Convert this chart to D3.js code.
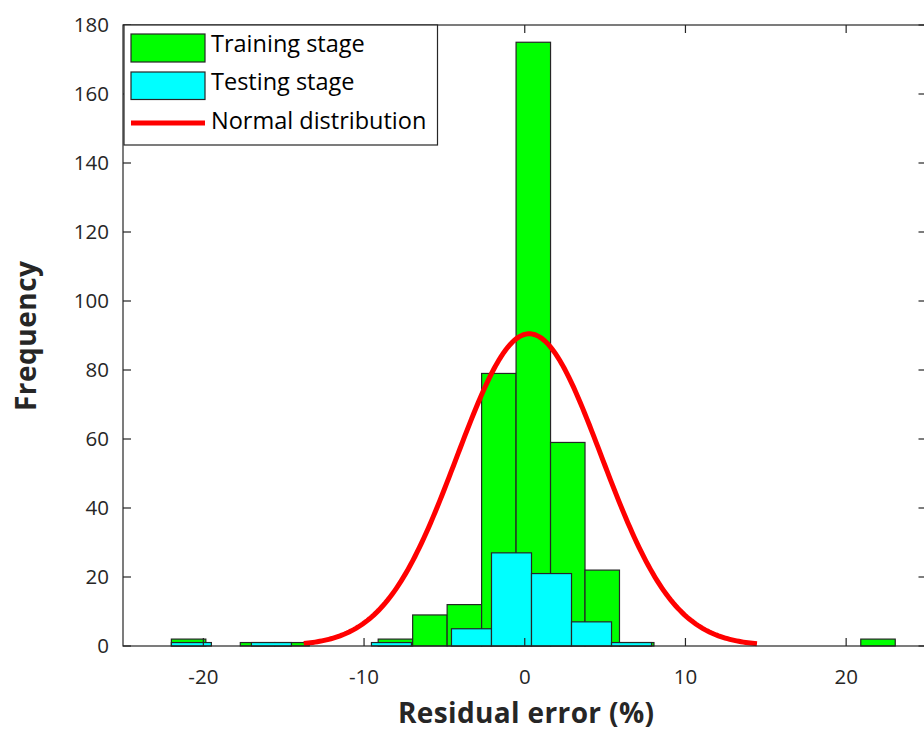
<!DOCTYPE html>
<html>
<head>
<meta charset="utf-8">
<script src="https://cdn.jsdelivr.net/npm/d3@7"></script>
<style>
  html, body { margin: 0; padding: 0; background: #fff; }
  svg { display: block; }
  text { font-family: "Open Sans", "Noto Sans", sans-serif; fill: #262626; }
</style>
</head>
<body>
<svg id="chart" width="924" height="733"></svg>
<script>
// ---- data ----
const trainBinStart = -21.99;
const trainBinWidth = 2.145;
const trainCounts = [2, 0, 1, 1, 0, 0, 2, 9, 12, 79, 175, 59, 22, 1, 0, 0, 0, 0, 0, 0, 2];

const testBinStart = -21.99;
const testBinWidth = 2.49;
const testCounts = [1, 0, 1, 0, 0, 1, 0, 5, 27, 21, 7, 1];

// fitted normal curve parameters
const normMean = 0.28;
const normSigma = 4.5;
const normPeak = 90.5;
const normRange = [-13.75, 14.45];

const xTicks = [-20, -10, 0, 10, 20];
const yTicks = [0, 20, 40, 60, 80, 100, 120, 140, 160, 180];
const xDomain = [-25, 25];
const yDomain = [0, 180];

const legendLabels = ["Training stage", "Testing stage", "Normal distribution"];
const colors = { train: "#00ff00", test: "#00ffff", normal: "#ff0000" };

(function () {
// ---- layout ----
const svg = d3.select("#chart");
const pL = 123, pR = 926.5, pT = 25, pB = 646;
const x = d3.scaleLinear().domain(xDomain).range([pL, pR]);
const y = d3.scaleLinear().domain(yDomain).range([pB, pT]);

const trainBins = trainCounts.map((c, i) => ({
  x0: trainBinStart + i * trainBinWidth,
  x1: trainBinStart + (i + 1) * trainBinWidth,
  count: c
})).filter(d => d.count > 0);
const testBins = testCounts.map((c, i) => ({
  x0: testBinStart + i * testBinWidth,
  x1: testBinStart + (i + 1) * testBinWidth,
  count: c
})).filter(d => d.count > 0);

const plot = svg.append("g");

plot.selectAll("rect.train").data(trainBins).join("rect")
  .attr("class", "train")
  .attr("x", d => x(d.x0))
  .attr("width", d => x(d.x1) - x(d.x0))
  .attr("y", d => y(d.count))
  .attr("height", d => y(0) - y(d.count))
  .attr("fill", colors.train)
  .attr("stroke", "#262626")
  .attr("stroke-width", 1.2);

plot.selectAll("rect.test").data(testBins).join("rect")
  .attr("class", "test")
  .attr("x", d => x(d.x0))
  .attr("width", d => x(d.x1) - x(d.x0))
  .attr("y", d => y(d.count))
  .attr("height", d => y(0) - y(d.count))
  .attr("fill", colors.test)
  .attr("stroke", "#262626")
  .attr("stroke-width", 1.2);

// normal curve
const nPts = 200;
const curvePts = d3.range(nPts + 1).map(i => {
  const xv = normRange[0] + (normRange[1] - normRange[0]) * i / nPts;
  const z = (xv - normMean) / normSigma;
  return [xv, normPeak * Math.exp(-0.5 * z * z)];
});
plot.append("path")
  .datum(curvePts)
  .attr("fill", "none")
  .attr("stroke", colors.normal)
  .attr("stroke-width", 5)
  .attr("d", d3.line().x(d => x(d[0])).y(d => y(d[1])));

// ---- axes (box with inward ticks) ----
const axisColor = "#262626";
const tickLen = 8;
const axes = svg.append("g").attr("stroke", axisColor).attr("stroke-width", 1.2);

axes.append("rect")
  .attr("x", pL).attr("y", pT)
  .attr("width", pR - pL).attr("height", pB - pT)
  .attr("fill", "none");

xTicks.forEach(t => {
  axes.append("line").attr("x1", x(t)).attr("x2", x(t)).attr("y1", pB).attr("y2", pB - tickLen);
  axes.append("line").attr("x1", x(t)).attr("x2", x(t)).attr("y1", pT).attr("y2", pT + tickLen);
});
yTicks.forEach(t => {
  axes.append("line").attr("x1", pL).attr("x2", pL + tickLen).attr("y1", y(t)).attr("y2", y(t));
  axes.append("line").attr("x1", pR).attr("x2", pR - tickLen).attr("y1", y(t)).attr("y2", y(t));
});

const labels = svg.append("g");
labels.selectAll("text.xt").data(xTicks).join("text")
  .attr("class", "xt")
  .attr("x", d => x(d))
  .attr("y", 684)
  .attr("text-anchor", "middle")
  .attr("font-size", 20.5)
  .text(d => d);

labels.selectAll("text.yt").data(yTicks).join("text")
  .attr("class", "yt")
  .attr("x", 109)
  .attr("y", d => y(d) + 7)
  .attr("text-anchor", "end")
  .attr("font-size", 20.5)
  .text(d => d);

labels.append("text")
  .attr("x", 526).attr("y", 723)
  .attr("text-anchor", "middle")
  .attr("font-size", 28)
  .attr("font-weight", "bold")
  .attr("textLength", 256)
  .attr("lengthAdjust", "spacing")
  .text("Residual error (%)");

labels.append("text")
  .attr("transform", "translate(36,336) rotate(-90)")
  .attr("text-anchor", "middle")
  .attr("font-size", 28)
  .attr("font-weight", "bold")
  .attr("textLength", 150)
  .attr("lengthAdjust", "spacing")
  .text("Frequency");

// ---- legend ----
const lg = svg.append("g");
lg.append("rect")
  .attr("x", 124).attr("y", 25)
  .attr("width", 313.5).attr("height", 120)
  .attr("fill", "#fff")
  .attr("stroke", axisColor).attr("stroke-width", 1.2);

lg.append("rect").attr("x", 131).attr("y", 34).attr("width", 74).attr("height", 28)
  .attr("fill", colors.train).attr("stroke", "#262626").attr("stroke-width", 1.2);
lg.append("rect").attr("x", 131).attr("y", 72).attr("width", 74).attr("height", 27.5)
  .attr("fill", colors.test).attr("stroke", "#262626").attr("stroke-width", 1.2);
lg.append("line").attr("x1", 131).attr("x2", 205).attr("y1", 123).attr("y2", 123)
  .attr("stroke", colors.normal).attr("stroke-width", 5);

const legendY = [52, 90, 128.5];
lg.selectAll("text.lt").data(legendLabels).join("text")
  .attr("class", "lt")
  .attr("x", 211)
  .attr("y", (d, i) => legendY[i])
  .attr("font-size", 23.5)
  .style("fill", "#000")
  .text(d => d);
})();
</script>
</body>
</html>
